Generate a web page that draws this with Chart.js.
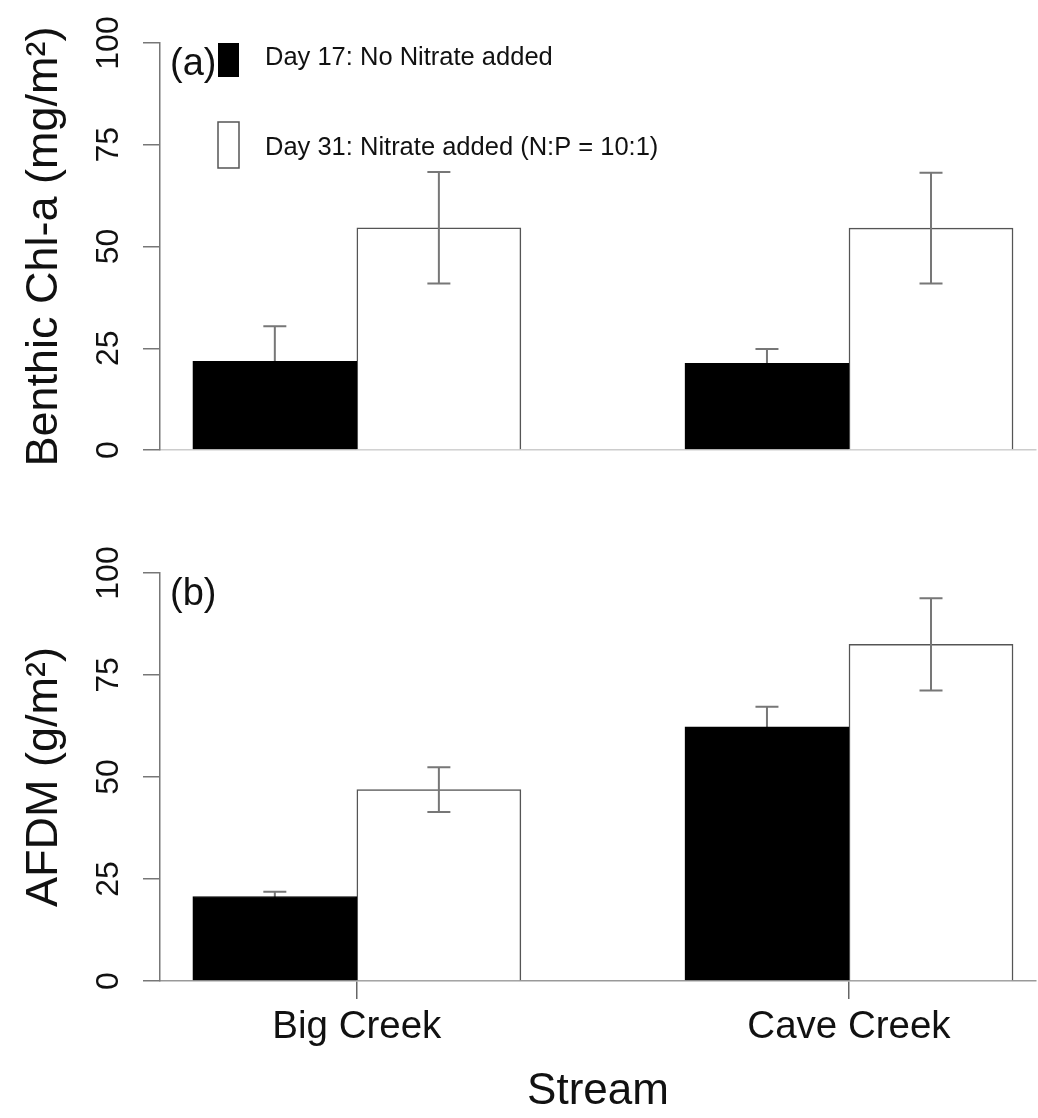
<!DOCTYPE html>
<html>
<head>
<meta charset="UTF-8">
<title>Benthic Chl-a and AFDM by stream</title>
<script src="https://cdn.jsdelivr.net/npm/chart.js@4.4.1/dist/chart.umd.min.js"></script>
<style>
  body { margin: 0; background: #fff; }
  canvas { display: block; }
</style>
</head>
<body>
<canvas id="chlChart" width="1038" height="520"></canvas>
<canvas id="afdmChart" width="1038" height="598"></canvas>
<script>
// data
var streams = ['Big Creek', 'Cave Creek'];
var seriesNames = ['Day 17: No Nitrate added', 'Day 31: Nitrate added (N:P = 10:1)'];
var yTicks = [0, 25, 50, 75, 100];

var chlDay17 = [21.8, 21.3];
var chlDay17Err = [8.6, 3.5];
var chlDay31 = [54.6, 54.5];
var chlDay31Err = [13.7, 13.6];

var afdmDay17 = [20.7, 62.3];
var afdmDay17Err = [1.2, 4.9];
var afdmDay31 = [46.9, 82.5];
var afdmDay31Err = [5.5, 11.3];

// barplot style positions: each group centred on 2, 5, ...
var groupCenters = streams.map(function (s, i) { return 2 + 3 * i; });

var FONT = "'Liberation Sans', Arial, sans-serif";
Chart.defaults.font.family = FONT;
Chart.defaults.color = '#111';

function points(values, shift) {
    return values.map(function (v, i) { return { x: groupCenters[i] + shift, y: v }; });
}

function drawErrors(chart, index) {
    var ds = chart.data.datasets[index];
    var meta = chart.getDatasetMeta(index);
    var y = chart.scales.y;
    var ctx = chart.ctx;
    ctx.save();
    ctx.strokeStyle = '#777';
    ctx.lineWidth = 2;
    meta.data.forEach(function (bar, j) {
        var v = ds.data[j].y, e = ds.err[j];
        var hi = y.getPixelForValue(v + e), lo = y.getPixelForValue(v - e);
        ctx.beginPath();
        ctx.moveTo(bar.x, lo); ctx.lineTo(bar.x, hi);
        ctx.moveTo(bar.x - 11.5, hi); ctx.lineTo(bar.x + 11.5, hi);
        ctx.moveTo(bar.x - 11.5, lo); ctx.lineTo(bar.x + 11.5, lo);
        ctx.stroke();
    });
    ctx.restore();
}

var extras = {
    id: 'extras',
    beforeDatasetDraw: function (chart, args) {
        if (chart.data.datasets[args.index].errBehind) drawErrors(chart, args.index);
    },
    afterDatasetDraw: function (chart, args) {
        if (!chart.data.datasets[args.index].errBehind) drawErrors(chart, args.index);
    },
    afterDraw: function (chart, args, opts) {
        var ctx = chart.ctx, area = chart.chartArea;
        ctx.save();
        ctx.fillStyle = '#111';
        ctx.textBaseline = 'alphabetic';
        ctx.font = '38px ' + FONT;
        ctx.fillText(opts.label, area.left + 10, area.top + 32);
        if (opts.legend) {
            // legend boxes
            ctx.fillStyle = '#000';
            ctx.fillRect(area.left + 58, area.top, 21, 34);
            ctx.strokeStyle = '#555';
            ctx.lineWidth = 1.5;
            ctx.strokeRect(area.left + 58, area.top + 79, 21, 46);
            ctx.fillStyle = '#111';
            ctx.font = '25.5px ' + FONT;
            ctx.fillText(seriesNames[0], area.left + 105, area.top + 22);
            ctx.fillText(seriesNames[1], area.left + 105, area.top + 112);
        }
        ctx.restore();
    }
};

function makeChart(id, day17, err17, day31, err31, yTitle, opts) {
    var bottomPanel = opts.bottom;
    return new Chart(document.getElementById(id), {
        type: 'bar',
        data: {
            datasets: [{
                label: seriesNames[0],
                data: points(day17, -0.5),
                err: err17,
                errBehind: true,
                backgroundColor: '#000',
                borderColor: '#000',
                borderWidth: 1
            }, {
                label: seriesNames[1],
                data: points(day31, 0.5),
                err: err31,
                backgroundColor: '#fff',
                borderColor: '#555',
                borderWidth: 1.5
            }]
        },
        options: {
            responsive: false,
            animation: false,
            grouped: false,
            barPercentage: 1,
            categoryPercentage: 1,
            layout: { padding: { top: opts.top, right: 2, left: 0, bottom: 0 } },
            plugins: {
                legend: { display: false },
                tooltip: { enabled: false },
                extras: { label: opts.label, legend: opts.legend }
            },
            scales: {
                x: {
                    type: 'linear',
                    min: 0.8,
                    max: 6.14,
                    offset: false,
                    afterBuildTicks: function (axis) {
                        axis.ticks = groupCenters.map(function (v) { return { value: v }; });
                    },
                    afterFit: function (axis) { axis.height = opts.xHeight; },
                    ticks: {
                        display: bottomPanel,
                        font: { size: 38.5 },
                        color: '#111',
                        padding: 5,
                        maxRotation: 0,
                        callback: function (value) {
                            var k = groupCenters.indexOf(value);
                            return k >= 0 ? streams[k] : '';
                        }
                    },
                    grid: {
                        display: bottomPanel,
                        offset: false,
                        drawOnChartArea: false,
                        tickLength: 18,
                        color: '#666',
                        lineWidth: 1.5
                    },
                    border: { color: bottomPanel ? '#999' : '#ccc', width: 1.5 },
                    title: {
                        display: bottomPanel,
                        text: 'Stream',
                        font: { size: 44 },
                        color: '#111',
                        padding: 0
                    }
                },
                y: {
                    min: 0,
                    max: 100,
                    afterBuildTicks: function (axis) {
                        axis.ticks = yTicks.map(function (v) { return { value: v }; });
                    },
                    afterFit: function (axis) { axis.width = 160; },
                    ticks: {
                        font: { size: 32 },
                        color: '#111',
                        minRotation: 90,
                        maxRotation: 90,
                        crossAlign: 'center',
                        padding: 7
                    },
                    grid: {
                        drawOnChartArea: false,
                        tickLength: 17,
                        color: '#777',
                        lineWidth: 1.5
                    },
                    border: { color: '#777', width: 1.5 },
                    title: {
                        display: true,
                        text: yTitle,
                        font: { size: 45 },
                        color: '#111',
                        padding: { top: 18, bottom: 0 }
                    }
                }
            }
        },
        plugins: [extras]
    });
}

makeChart('chlChart', chlDay17, chlDay17Err, chlDay31, chlDay31Err,
    'Benthic Chl-a (mg/m\u00B2)', { top: 43, xHeight: 70, label: '(a)', legend: true, bottom: false });
makeChart('afdmChart', afdmDay17, afdmDay17Err, afdmDay31, afdmDay31Err,
    'AFDM (g/m\u00B2)', { top: 53, xHeight: 137, label: '(b)', legend: false, bottom: true });
</script>
</body>
</html>
